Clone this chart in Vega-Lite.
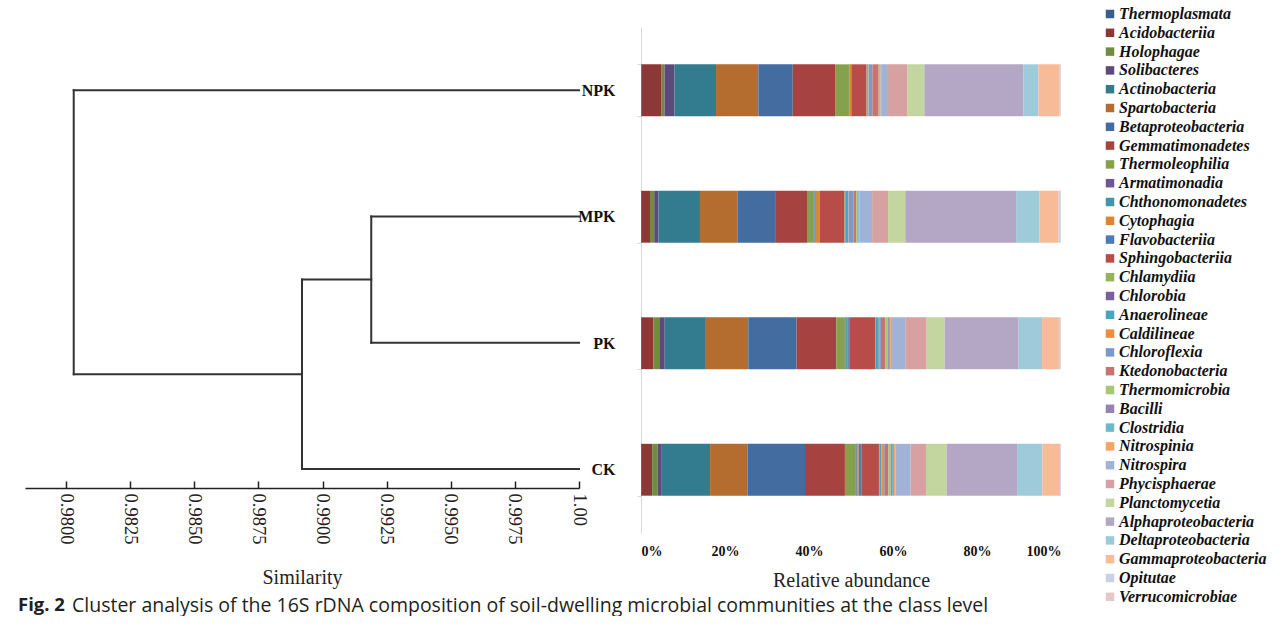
{
  "$schema": "https://vega.github.io/schema/vega-lite/v6.json",
  "padding": {"left": 18, "top": 6, "right": 0, "bottom": 0},
  "autosize": {"type": "pad"},
  "background": "white",
  "config": {"view": {"stroke": null}, "font": "Liberation Serif"},
  "title": {"text": "Fig. 2", "orient": "bottom", "anchor": "start", "font": "Open Sans", "fontSize": 18.5, "fontWeight": "bold", "color": "#231f20", "offset": -19, "dx": -7},
  "datasets": {
    "tree": [
      {"x1": 0.9803, "x2": 1.0, "y1": 0.5, "y2": 0.5},
      {"x1": 0.9803, "x2": 0.9803, "y1": 0.5, "y2": 2.75},
      {"x1": 0.9803, "x2": 0.9892, "y1": 2.75, "y2": 2.75},
      {"x1": 0.9892, "x2": 0.9892, "y1": 2.0, "y2": 3.5},
      {"x1": 0.9892, "x2": 1.0, "y1": 3.5, "y2": 3.5},
      {"x1": 0.9892, "x2": 0.9919, "y1": 2.0, "y2": 2.0},
      {"x1": 0.9919, "x2": 0.9919, "y1": 1.5, "y2": 2.5},
      {"x1": 0.9919, "x2": 1.0, "y1": 1.5, "y2": 1.5},
      {"x1": 0.9919, "x2": 1.0, "y1": 2.5, "y2": 2.5}
    ],
    "comp": [
      {"s":"NPK","c":"Thermoplasmata","v":0.1},{"s":"MPK","c":"Thermoplasmata","v":0.05},{"s":"PK","c":"Thermoplasmata","v":0.05},{"s":"CK","c":"Thermoplasmata","v":0.05},
      {"s":"NPK","c":"Acidobacteriia","v":4.7},{"s":"MPK","c":"Acidobacteriia","v":2.1},{"s":"PK","c":"Acidobacteriia","v":2.9},{"s":"CK","c":"Acidobacteriia","v":2.6},
      {"s":"NPK","c":"Holophagae","v":0.8},{"s":"MPK","c":"Holophagae","v":1.0},{"s":"PK","c":"Holophagae","v":1.4},{"s":"CK","c":"Holophagae","v":1.3},
      {"s":"NPK","c":"Solibacteres","v":2.4},{"s":"MPK","c":"Solibacteres","v":1.0},{"s":"PK","c":"Solibacteres","v":1.3},{"s":"CK","c":"Solibacteres","v":1.0},
      {"s":"NPK","c":"Actinobacteria","v":9.9},{"s":"MPK","c":"Actinobacteria","v":9.9},{"s":"PK","c":"Actinobacteria","v":9.8},{"s":"CK","c":"Actinobacteria","v":11.5},
      {"s":"NPK","c":"Spartobacteria","v":10.1},{"s":"MPK","c":"Spartobacteria","v":8.9},{"s":"PK","c":"Spartobacteria","v":10.1},{"s":"CK","c":"Spartobacteria","v":8.9},
      {"s":"NPK","c":"Betaproteobacteria","v":8.2},{"s":"MPK","c":"Betaproteobacteria","v":9.0},{"s":"PK","c":"Betaproteobacteria","v":11.5},{"s":"CK","c":"Betaproteobacteria","v":13.7},
      {"s":"NPK","c":"Gemmatimonadetes","v":10.1},{"s":"MPK","c":"Gemmatimonadetes","v":7.6},{"s":"PK","c":"Gemmatimonadetes","v":9.5},{"s":"CK","c":"Gemmatimonadetes","v":9.5},
      {"s":"NPK","c":"Thermoleophilia","v":3.3},{"s":"MPK","c":"Thermoleophilia","v":1.6},{"s":"PK","c":"Thermoleophilia","v":2.0},{"s":"CK","c":"Thermoleophilia","v":2.6},
      {"s":"NPK","c":"Armatimonadia","v":0.1},{"s":"MPK","c":"Armatimonadia","v":0.2},{"s":"PK","c":"Armatimonadia","v":0.1},{"s":"CK","c":"Armatimonadia","v":0.2},
      {"s":"NPK","c":"Chthonomonadetes","v":0.1},{"s":"MPK","c":"Chthonomonadetes","v":0.1},{"s":"PK","c":"Chthonomonadetes","v":0.4},{"s":"CK","c":"Chthonomonadetes","v":0.1},
      {"s":"NPK","c":"Cytophagia","v":0.3},{"s":"MPK","c":"Cytophagia","v":1.0},{"s":"PK","c":"Cytophagia","v":0.3},{"s":"CK","c":"Cytophagia","v":0.4},
      {"s":"NPK","c":"Flavobacteriia","v":0.1},{"s":"MPK","c":"Flavobacteriia","v":0.1},{"s":"PK","c":"Flavobacteriia","v":0.4},{"s":"CK","c":"Flavobacteriia","v":0.6},
      {"s":"NPK","c":"Sphingobacteriia","v":3.6},{"s":"MPK","c":"Sphingobacteriia","v":5.9},{"s":"PK","c":"Sphingobacteriia","v":6.0},{"s":"CK","c":"Sphingobacteriia","v":4.2},
      {"s":"NPK","c":"Chlamydiia","v":0.1},{"s":"MPK","c":"Chlamydiia","v":0.1},{"s":"PK","c":"Chlamydiia","v":0.1},{"s":"CK","c":"Chlamydiia","v":0.1},
      {"s":"NPK","c":"Chlorobia","v":0.1},{"s":"MPK","c":"Chlorobia","v":0.1},{"s":"PK","c":"Chlorobia","v":0.1},{"s":"CK","c":"Chlorobia","v":0.1},
      {"s":"NPK","c":"Anaerolineae","v":0.2},{"s":"MPK","c":"Anaerolineae","v":0.7},{"s":"PK","c":"Anaerolineae","v":0.7},{"s":"CK","c":"Anaerolineae","v":0.4},
      {"s":"NPK","c":"Caldilineae","v":0.1},{"s":"MPK","c":"Caldilineae","v":0.1},{"s":"PK","c":"Caldilineae","v":0.1},{"s":"CK","c":"Caldilineae","v":0.4},
      {"s":"NPK","c":"Chloroflexia","v":0.9},{"s":"MPK","c":"Chloroflexia","v":1.2},{"s":"PK","c":"Chloroflexia","v":0.4},{"s":"CK","c":"Chloroflexia","v":0.4},
      {"s":"NPK","c":"Ktedonobacteria","v":1.5},{"s":"MPK","c":"Ktedonobacteria","v":0.6},{"s":"PK","c":"Ktedonobacteria","v":1.0},{"s":"CK","c":"Ktedonobacteria","v":0.8},
      {"s":"NPK","c":"Thermomicrobia","v":0.3},{"s":"MPK","c":"Thermomicrobia","v":0.3},{"s":"PK","c":"Thermomicrobia","v":0.6},{"s":"CK","c":"Thermomicrobia","v":0.6},
      {"s":"NPK","c":"Bacilli","v":0.1},{"s":"MPK","c":"Bacilli","v":0.2},{"s":"PK","c":"Bacilli","v":0.3},{"s":"CK","c":"Bacilli","v":0.3},
      {"s":"NPK","c":"Clostridia","v":0.1},{"s":"MPK","c":"Clostridia","v":0.2},{"s":"PK","c":"Clostridia","v":0.3},{"s":"CK","c":"Clostridia","v":0.5},
      {"s":"NPK","c":"Nitrospinia","v":0.1},{"s":"MPK","c":"Nitrospinia","v":0.2},{"s":"PK","c":"Nitrospinia","v":0.2},{"s":"CK","c":"Nitrospinia","v":0.3},
      {"s":"NPK","c":"Nitrospira","v":1.4},{"s":"MPK","c":"Nitrospira","v":2.9},{"s":"PK","c":"Nitrospira","v":3.4},{"s":"CK","c":"Nitrospira","v":3.6},
      {"s":"NPK","c":"Phycisphaerae","v":4.9},{"s":"MPK","c":"Phycisphaerae","v":3.8},{"s":"PK","c":"Phycisphaerae","v":5.1},{"s":"CK","c":"Phycisphaerae","v":3.7},
      {"s":"NPK","c":"Planctomycetia","v":4.0},{"s":"MPK","c":"Planctomycetia","v":4.1},{"s":"PK","c":"Planctomycetia","v":4.3},{"s":"CK","c":"Planctomycetia","v":4.9},
      {"s":"NPK","c":"Alphaproteobacteria","v":23.6},{"s":"MPK","c":"Alphaproteobacteria","v":26.4},{"s":"PK","c":"Alphaproteobacteria","v":17.6},{"s":"CK","c":"Alphaproteobacteria","v":16.8},
      {"s":"NPK","c":"Deltaproteobacteria","v":3.6},{"s":"MPK","c":"Deltaproteobacteria","v":5.6},{"s":"PK","c":"Deltaproteobacteria","v":5.6},{"s":"CK","c":"Deltaproteobacteria","v":6.0},
      {"s":"NPK","c":"Gammaproteobacteria","v":5.1},{"s":"MPK","c":"Gammaproteobacteria","v":4.5},{"s":"PK","c":"Gammaproteobacteria","v":4.0},{"s":"CK","c":"Gammaproteobacteria","v":4.2},
      {"s":"NPK","c":"Opitutae","v":0.2},{"s":"MPK","c":"Opitutae","v":0.5},{"s":"PK","c":"Opitutae","v":0.4},{"s":"CK","c":"Opitutae","v":0.2},
      {"s":"NPK","c":"Verrucomicrobiae","v":0.1},{"s":"MPK","c":"Verrucomicrobiae","v":0.1},{"s":"PK","c":"Verrucomicrobiae","v":0.1},{"s":"CK","c":"Verrucomicrobiae","v":0.05}
    ]
  },
  "bounds": "flush",
  "spacing": 62,
  "hconcat": [
    {
      "width": 554,
      "height": 461,
      "data": {"name": "tree"},
      "title": {"text": "Cluster analysis of the 16S rDNA composition of soil-dwelling microbial communities at the class level", "orient": "bottom", "anchor": "start", "font": "Open Sans", "fontSize": 19.5, "fontWeight": "normal", "color": "#231f20", "dx": 47, "offset": 9},
      "mark": {"type": "rule", "color": "#333333", "strokeWidth": 2, "strokeCap": "square"},
      "encoding": {
        "x": {"field": "x1", "type": "quantitative",
              "scale": {"domain": [0.9784, 1.0], "nice": false, "zero": false},
              "axis": {"values": [0.98, 0.9825, 0.985, 0.9875, 0.99, 0.9925, 0.995, 0.9975, 1.0],
                       "labelExpr": "datum.value >= 1 ? '1.00' : format(datum.value, '.4f')",
                       "labelAngle": 90, "labelAlign": "left", "labelBaseline": "middle",
                       "labelFont": "Liberation Serif", "labelFontSize": 18.5, "labelColor": "#222222",
                       "domainColor": "#222222", "domainWidth": 1.5, "tickColor": "#222222", "tickWidth": 1.5,
                       "tickSize": -7, "labelPadding": 12, "grid": false,
                       "title": "Similarity", "titleFont": "Liberation Serif", "titleFontSize": 20,
                       "titleFontWeight": "normal", "titleColor": "#222222", "titlePadding": 24}},
        "x2": {"field": "x2"},
        "y": {"field": "y1", "type": "quantitative",
              "scale": {"domain": [0, 3.65], "reverse": true, "nice": false, "zero": false},
              "axis": null},
        "y2": {"field": "y2"}
      }
    },
    {
      "width": 420,
      "height": 506,
      "data": {"name": "comp"},
      "transform": [
        {"calculate": "indexof(['Thermoplasmata','Acidobacteriia','Holophagae','Solibacteres','Actinobacteria','Spartobacteria','Betaproteobacteria','Gemmatimonadetes','Thermoleophilia','Armatimonadia','Chthonomonadetes','Cytophagia','Flavobacteriia','Sphingobacteriia','Chlamydiia','Chlorobia','Anaerolineae','Caldilineae','Chloroflexia','Ktedonobacteria','Thermomicrobia','Bacilli','Clostridia','Nitrospinia','Nitrospira','Phycisphaerae','Planctomycetia','Alphaproteobacteria','Deltaproteobacteria','Gammaproteobacteria','Opitutae','Verrucomicrobiae'], datum.c)", "as": "o"}
      ],
      "mark": {"type": "bar"},
      "encoding": {
        "y": {"field": "s", "type": "nominal", "sort": ["NPK", "MPK", "PK", "CK"],
              "scale": {"paddingInner": 0.59, "paddingOuter": 0.295},
              "axis": {"title": null, "domainColor": "#d9d9d9", "tickColor": "#d9d9d9", "tickBand": "extent",
                       "tickSize": 4, "labelPadding": 22, "labelFont": "Liberation Serif", "labelFontWeight": "bold",
                       "labelFontSize": 16, "labelColor": "#111111"}},
        "x": {"field": "v", "type": "quantitative", "stack": "normalize",
              "scale": {"domain": [0, 1], "nice": false},
              "axis": {"values": [0, 0.2, 0.4, 0.6, 0.8, 1], "format": ".0%", "domain": false, "ticks": false, "grid": false,
                       "labelFont": "Liberation Serif", "labelFontWeight": "bold", "labelFontSize": 14, "labelColor": "#111111",
                       "labelPadding": 11, "title": "Relative abundance", "titleFont": "Liberation Serif",
                       "titleFontSize": 20, "titleFontWeight": "normal", "titleColor": "#222222", "titlePadding": 12}},
        "order": {"field": "o", "type": "quantitative"},
        "color": {"field": "c", "type": "nominal",
                  "sort": ["Thermoplasmata","Acidobacteriia","Holophagae","Solibacteres","Actinobacteria","Spartobacteria","Betaproteobacteria","Gemmatimonadetes","Thermoleophilia","Armatimonadia","Chthonomonadetes","Cytophagia","Flavobacteriia","Sphingobacteriia","Chlamydiia","Chlorobia","Anaerolineae","Caldilineae","Chloroflexia","Ktedonobacteria","Thermomicrobia","Bacilli","Clostridia","Nitrospinia","Nitrospira","Phycisphaerae","Planctomycetia","Alphaproteobacteria","Deltaproteobacteria","Gammaproteobacteria","Opitutae","Verrucomicrobiae"],
                  "scale": {
                    "domain": ["Thermoplasmata","Acidobacteriia","Holophagae","Solibacteres","Actinobacteria","Spartobacteria","Betaproteobacteria","Gemmatimonadetes","Thermoleophilia","Armatimonadia","Chthonomonadetes","Cytophagia","Flavobacteriia","Sphingobacteriia","Chlamydiia","Chlorobia","Anaerolineae","Caldilineae","Chloroflexia","Ktedonobacteria","Thermomicrobia","Bacilli","Clostridia","Nitrospinia","Nitrospira","Phycisphaerae","Planctomycetia","Alphaproteobacteria","Deltaproteobacteria","Gammaproteobacteria","Opitutae","Verrucomicrobiae"],
                    "range": ["#3A5D8C","#8C3836","#718B3F","#5D4A7C","#337B8E","#B56D2F","#436DA1","#A64341","#86A14C","#6E5792","#3D97AD","#DD8533","#4B7BB9","#B84C49","#95B456","#7A5F9D","#47A6BF","#EF8D3B","#7D99CB","#CA7270","#A9C674","#9782B3","#6CB9CE","#F6A364","#A0B3D6","#D6A1A0","#C3D6A0","#B4A7C6","#9ECADA","#F8BB97","#C8D1E5","#E6C8C8"]
                  },
                  "legend": {"orient": "none", "legendX": 1077, "legendY": -21, "title": null, "symbolType": "square",
                             "symbolSize": 72, "symbolStrokeWidth": 0, "symbolLimit": 0, "labelFont": "Liberation Serif", "labelFontSize": 16,
                             "labelFontWeight": "bold", "labelFontStyle": "italic", "labelColor": "#111111", "labelOffset": 1,
                             "rowPadding": 2.8, "labelLimit": 300, "padding": 0}}
      }
    }
  ]
}
